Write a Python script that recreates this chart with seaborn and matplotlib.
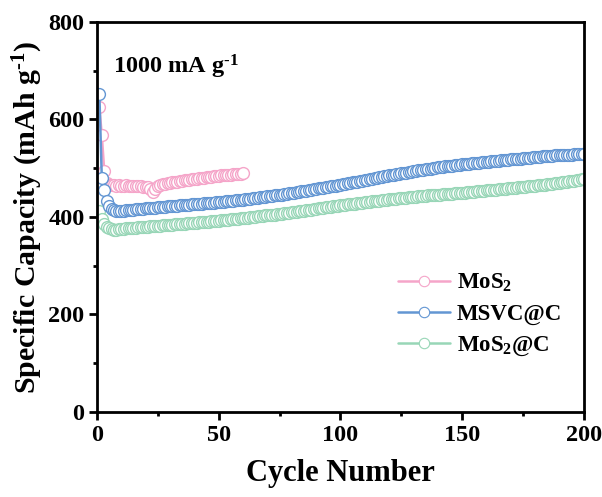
import matplotlib
matplotlib.use("Agg")
import matplotlib.pyplot as plt
import seaborn as sns
import pandas as pd
from matplotlib.ticker import MultipleLocator
from matplotlib.lines import Line2D

sns.set_style("ticks")
plt.rcParams['font.family'] = ['Liberation Serif', 'DejaVu Serif']
plt.rcParams['font.weight'] = 'bold'
plt.rcParams['text.color'] = 'black'
plt.rcParams['axes.labelcolor'] = 'black'
plt.rcParams['xtick.color'] = 'black'
plt.rcParams['ytick.color'] = 'black'
plt.rcParams['mathtext.fontset'] = 'custom'
plt.rcParams['mathtext.rm'] = 'Liberation Serif:bold'
plt.rcParams['mathtext.it'] = 'Liberation Serif:bold'
plt.rcParams['mathtext.bf'] = 'Liberation Serif:bold'

series_names = ["MoS$_2$", "MSVC@C", "MoS$_2$@C"]
colors = ["#f5a5c9", "#6396d3", "#98d6b7"]

mos2 = [625, 568, 495, 470, 466, 465, 465, 464, 465, 464,
        464, 465, 464, 464, 463, 464, 463, 463, 462, 462,
        461, 458, 452, 457, 463, 466, 467, 468, 469, 470,
        471, 472, 472, 473, 474, 475, 475, 476, 477, 477,
        478, 479, 479, 480, 481, 481, 482, 483, 483, 484,
        485, 485, 486, 486, 487, 488, 488, 489, 489, 490]

msvc = [652, 480, 455, 432, 422, 417, 414, 412, 412, 413,
        413, 414, 414, 415, 415, 416, 416, 417, 417, 418,
        418, 419, 419, 419, 420, 420, 421, 421, 422, 422,
        422, 423, 423, 424, 424, 424, 425, 425, 426, 426,
        426, 427, 427, 428, 428, 428, 429, 429, 430, 430,
        431, 431, 432, 432, 433, 433, 434, 434, 435, 435,
        436, 436, 437, 438, 438, 439, 440, 440, 441, 442,
        442, 443, 444, 445, 445, 446, 447, 448, 449, 450,
        450, 451, 452, 453, 454, 454, 455, 456, 457, 458,
        459, 459, 460, 461, 462, 463, 463, 464, 465, 466,
        467, 468, 469, 470, 471, 471, 472, 473, 474, 475,
        476, 477, 478, 479, 480, 481, 482, 483, 484, 485,
        486, 487, 488, 489, 490, 490, 491, 492, 493, 494,
        495, 496, 496, 497, 498, 499, 499, 500, 501, 502,
        502, 503, 504, 504, 505, 505, 506, 507, 507, 508,
        508, 509, 509, 510, 510, 511, 511, 512, 512, 513,
        513, 514, 514, 515, 515, 516, 516, 517, 517, 518,
        518, 519, 519, 519, 520, 520, 521, 521, 522, 522,
        523, 523, 524, 524, 525, 525, 525, 526, 526, 527,
        527, 527, 528, 528, 528, 529, 529, 529, 530, 530]

mos2c = [412, 395, 385, 380, 377, 375, 374, 374, 375, 376,
         376, 377, 377, 378, 378, 378, 379, 379, 380, 380,
         380, 381, 381, 382, 382, 382, 383, 383, 384, 384,
         384, 385, 385, 386, 386, 386, 387, 387, 388, 388,
         388, 389, 389, 390, 390, 390, 391, 391, 392, 392,
         393, 393, 394, 394, 395, 395, 396, 396, 397, 397,
         398, 398, 399, 400, 400, 401, 401, 402, 403, 403,
         404, 405, 405, 406, 407, 407, 408, 409, 409, 410,
         411, 411, 412, 413, 413, 414, 415, 415, 416, 417,
         418, 418, 419, 420, 420, 421, 422, 422, 423, 424,
         424, 425, 426, 426, 427, 427, 428, 429, 429, 430,
         430, 431, 432, 432, 433, 433, 434, 435, 435, 436,
         436, 437, 437, 438, 438, 439, 439, 440, 440, 441,
         441, 442, 442, 443, 443, 444, 444, 445, 445, 446,
         446, 447, 447, 447, 448, 448, 449, 449, 450, 450,
         450, 451, 451, 452, 452, 453, 453, 454, 454, 455,
         455, 455, 456, 456, 457, 457, 458, 458, 459, 459,
         460, 460, 461, 461, 462, 462, 463, 463, 464, 464,
         465, 465, 466, 466, 467, 467, 468, 469, 469, 470,
         471, 471, 472, 473, 474, 474, 475, 476, 477, 478]

data = {"MoS$_2$": mos2, "MSVC@C": msvc, "MoS$_2$@C": mos2c}
col = dict(zip(series_names, colors))

fig = plt.figure(figsize=(6.02, 4.97), dpi=100)
ax = fig.add_axes([0.161, 0.171, 0.809, 0.785])

for name in ["MoS$_2$@C", "MoS$_2$", "MSVC@C"]:
    vals = data[name]
    d = pd.DataFrame({"cycle": list(range(1, len(vals) + 1)), "cap": vals})
    sns.lineplot(data=d, x="cycle", y="cap", color=col[name],
                 marker="o", markersize=8.5, markerfacecolor="white",
                 markeredgecolor=col[name], markeredgewidth=1.0,
                 linewidth=1.8, ax=ax, legend=False, estimator=None,
                 errorbar=None)

ax.set_xlim(0, 200)
ax.set_ylim(0, 800)
ax.xaxis.set_major_locator(MultipleLocator(50))
ax.xaxis.set_minor_locator(MultipleLocator(25))
ax.yaxis.set_major_locator(MultipleLocator(200))
ax.yaxis.set_minor_locator(MultipleLocator(100))
for s in ax.spines.values():
    s.set_linewidth(2.0)
    s.set_color("black")
ax.tick_params(which="major", direction="out", length=6, width=2, labelsize=17.5,
               colors="black", pad=3)
ax.tick_params(which="minor", direction="out", length=3, width=2)
for lab in ax.get_xticklabels() + ax.get_yticklabels():
    lab.set_fontweight("bold")

ax.set_xlabel("Cycle Number", fontsize=22, fontweight="bold", labelpad=10)
ax.set_ylabel(r"Specific Capacity (mAh g$^{\text{-}1}$)", fontsize=21.5, fontweight="bold", labelpad=2)

ax.text(0.033, 0.885, r"1000 mA g$^{\text{-}1}$", transform=ax.transAxes,
        fontsize=17.5, fontweight="bold", va="center")

handles = [Line2D([], [], color=c, marker="o", markersize=7.5, markerfacecolor="white",
                  markeredgewidth=0.8, linewidth=1.8) for c in colors]
ax.legend(handles, series_names, loc="lower left", bbox_to_anchor=(0.575, 0.085),
          frameon=False, prop={"family": "Liberation Serif", "weight": "bold", "size": 16.5},
          handlelength=2.3, labelspacing=0.42, handletextpad=0.3)

fig.savefig("out.png", dpi=100)
